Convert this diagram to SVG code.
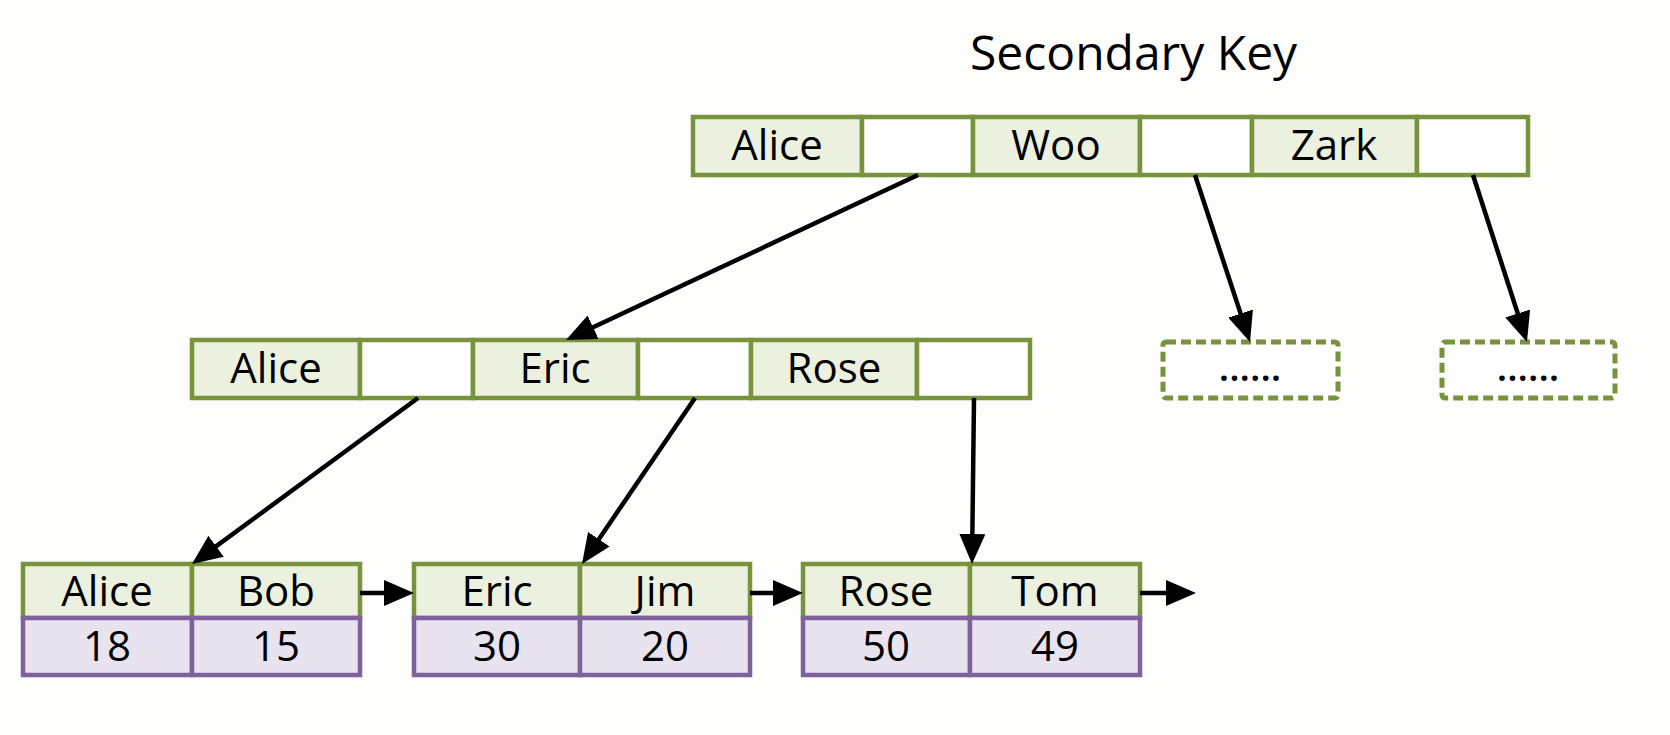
<svg xmlns="http://www.w3.org/2000/svg" width="1670" height="735" viewBox="0 0 1670 735">
<style>
.bg{fill:#fdfdfb}
.k{fill:#ebf1de;stroke:#77933c;stroke-width:4.5}
.e{fill:#ffffff;stroke:#77933c;stroke-width:4.5}
.v{fill:#e8e3ee;stroke:#7f619e;stroke-width:4.5}
.d{fill:#ffffff;stroke:#77933c;stroke-width:5;stroke-dasharray:10 5}
.t{font-family:"Open Sans","Noto Sans","DejaVu Sans",sans-serif;font-size:42px;fill:#000;text-anchor:middle}
.dots{font-family:"Open Sans","Noto Sans","DejaVu Sans",sans-serif;font-size:38px;font-weight:600;fill:#000;text-anchor:middle}
.title{font-family:"Open Sans","Noto Sans","DejaVu Sans",sans-serif;font-size:48px;fill:#000}
.c{stroke:#000;stroke-width:4.5;fill:none;marker-end:url(#ah)}
</style>
<defs>
<marker id="ah" markerWidth="30" markerHeight="26" refX="23" refY="13" orient="auto" markerUnits="userSpaceOnUse">
<path d="M0,0 L30,13 L0,26 z" fill="#000"/>
</marker>
</defs>
<rect class="bg" x="0" y="0" width="1670" height="735"/>
<text class="title" x="970" y="70">Secondary Key</text>

<g id="root">
<rect class="k" x="693" y="117" width="169" height="58"/>
<rect class="e" x="862" y="117" width="111" height="58"/>
<rect class="k" x="973" y="117" width="167" height="58"/>
<rect class="e" x="1140" y="117" width="112" height="58"/>
<rect class="k" x="1252" y="117" width="165" height="58"/>
<rect class="e" x="1417" y="117" width="111" height="58"/>
<text class="t" x="777" y="160">Alice</text>
<text class="t" x="1056" y="160">Woo</text>
<text class="t" x="1334" y="160">Zark</text>
</g>

<g id="inner">
<rect class="k" x="192" y="340" width="168" height="58"/>
<rect class="e" x="360" y="340" width="113" height="58"/>
<rect class="k" x="473" y="340" width="165" height="58"/>
<rect class="e" x="638" y="340" width="113" height="58"/>
<rect class="k" x="751" y="340" width="166" height="58"/>
<rect class="e" x="917" y="340" width="113" height="58"/>
<text class="t" x="276" y="383">Alice</text>
<text class="t" x="555" y="383">Eric</text>
<text class="t" x="834" y="383">Rose</text>
</g>

<g id="more1">
<rect class="d" x="1163" y="342" width="175" height="56" rx="3"/>
<text class="dots" x="1250" y="381">......</text>
</g>
<g id="more2">
<rect class="d" x="1442" y="342" width="173" height="56" rx="3"/>
<text class="dots" x="1528" y="381">......</text>
</g>

<g id="leaf1">
<rect class="k" x="23" y="564" width="169" height="54"/>
<rect class="k" x="192" y="564" width="168" height="54"/>
<rect class="v" x="23" y="618" width="169" height="57"/>
<rect class="v" x="192" y="618" width="168" height="57"/>
<text class="t" x="107" y="606">Alice</text>
<text class="t" x="276" y="606">Bob</text>
<text class="t" x="107" y="661">18</text>
<text class="t" x="276" y="661">15</text>
</g>
<g id="leaf2">
<rect class="k" x="414" y="564" width="166" height="54"/>
<rect class="k" x="580" y="564" width="170" height="54"/>
<rect class="v" x="414" y="618" width="166" height="57"/>
<rect class="v" x="580" y="618" width="170" height="57"/>
<text class="t" x="497" y="606">Eric</text>
<text class="t" x="665" y="606">Jim</text>
<text class="t" x="497" y="661">30</text>
<text class="t" x="665" y="661">20</text>
</g>
<g id="leaf3">
<rect class="k" x="803" y="564" width="167" height="54"/>
<rect class="k" x="970" y="564" width="170" height="54"/>
<rect class="v" x="803" y="618" width="167" height="57"/>
<rect class="v" x="970" y="618" width="170" height="57"/>
<text class="t" x="886" y="606">Rose</text>
<text class="t" x="1055" y="606">Tom</text>
<text class="t" x="886" y="661">50</text>
<text class="t" x="1055" y="661">49</text>
</g>

<g id="connectors">
<line class="c" x1="918" y1="175" x2="572.3" y2="337"/>
<line class="c" x1="1195" y1="175" x2="1247.8" y2="335.4"/>
<line class="c" x1="1473" y1="175" x2="1524.8" y2="335.3"/>
<line class="c" x1="418" y1="398" x2="197.6" y2="559.9"/>
<line class="c" x1="695" y1="398" x2="585.9" y2="558.2"/>
<line class="c" x1="974" y1="398" x2="972.1" y2="557"/>
<line class="c" x1="360" y1="593" x2="407" y2="593"/>
<line class="c" x1="750" y1="593" x2="796" y2="593"/>
<line class="c" x1="1140" y1="593" x2="1189" y2="593"/>
</g>
</svg>
